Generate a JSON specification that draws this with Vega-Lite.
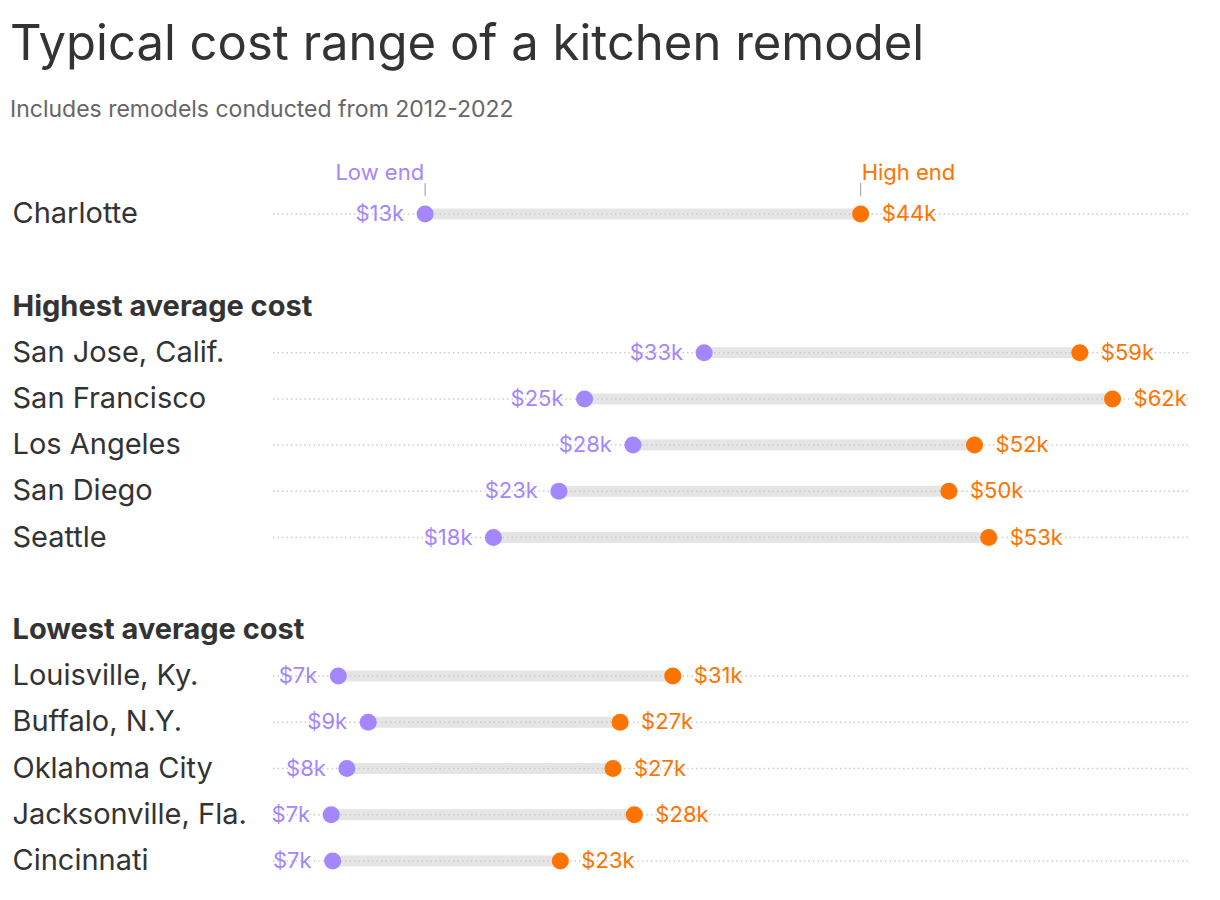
{
  "$schema": "https://vega.github.io/schema/vega-lite/v6.json",
  "autosize": {"type": "none"},
  "width": 918,
  "height": 693,
  "padding": {"left": 270, "top": 191, "right": 32, "bottom": 16},
  "background": "white",
  "config": {
    "font": "Inter",
    "view": {"stroke": null}
  },
  "title": {
    "text": "Typical cost range of a kitchen remodel",
    "subtitle": "Includes remodels conducted from 2012-2022",
    "anchor": "start",
    "frame": "group",
    "dx": -260,
    "offset": 40,
    "fontSize": 49,
    "fontWeight": "normal",
    "color": "#333333",
    "subtitleFontSize": 23,
    "subtitleColor": "#666666",
    "subtitlePadding": 29
  },
  "data": {
    "values": [
      {"city": "Charlotte", "low": 13.4, "high": 44.0},
      {"city": "San Jose, Calif.", "low": 33.0, "high": 59.4},
      {"city": "San Francisco", "low": 24.6, "high": 61.7},
      {"city": "Los Angeles", "low": 28.0, "high": 52.0},
      {"city": "San Diego", "low": 22.8, "high": 50.2},
      {"city": "Seattle", "low": 18.2, "high": 53.0},
      {"city": "Louisville, Ky.", "low": 7.3, "high": 30.8},
      {"city": "Buffalo, N.Y.", "low": 9.4, "high": 27.1},
      {"city": "Oklahoma City", "low": 7.9, "high": 26.6},
      {"city": "Jacksonville, Fla.", "low": 6.8, "high": 28.1},
      {"city": "Cincinnati", "low": 6.9, "high": 22.9}
    ]
  },
  "transform": [
    {"calculate": "'$' + format(datum.low, '.0f') + 'k'", "as": "lowLabel"},
    {"calculate": "'$' + format(datum.high, '.0f') + 'k'", "as": "highLabel"}
  ],
  "encoding": {
    "y": {
      "field": "city",
      "type": "nominal",
      "sort": null,
      "scale": {
        "domain": ["Charlotte", "gap1", "Highest average cost", "San Jose, Calif.", "San Francisco", "Los Angeles", "San Diego", "Seattle", "gap2", "Lowest average cost", "Louisville, Ky.", "Buffalo, N.Y.", "Oklahoma City", "Jacksonville, Fla.", "Cincinnati"],
        "paddingInner": 0,
        "paddingOuter": 0
      },
      "axis": {
        "title": null,
        "orient": "left",
        "offset": 258,
        "ticks": false,
        "domain": false,
        "grid": false,
        "labelAlign": "left",
        "labelBaseline": "middle",
        "labelPadding": 0,
        "labelFontSize": 29,
        "labelColor": "#333333",
        "labelLimit": 0,
        "labelFontWeight": {
          "condition": {"test": "datum.value === 'Highest average cost' || datum.value === 'Lowest average cost'", "value": "bold"},
          "value": "normal"
        },
        "labelExpr": "indexof(datum.value, 'gap') === 0 ? '' : datum.value"
      }
    }
  },
  "layer": [
    {
      "mark": {"type": "rule", "color": "#e5e5e5", "strokeWidth": 11, "strokeCap": "butt"},
      "encoding": {
        "x": {"field": "low", "type": "quantitative", "scale": {"domain": [2.5, 67], "zero": false, "nice": false}, "axis": null},
        "x2": {"field": "high"}
      }
    },
    {
      "mark": {"type": "rule", "color": "#cccccc", "strokeWidth": 1.5, "strokeDash": [1.5, 3]},
      "encoding": {}
    },
    {
      "mark": {"type": "circle", "size": 290, "opacity": 1, "color": "#a486ff"},
      "encoding": {
        "x": {"field": "low", "type": "quantitative"}
      }
    },
    {
      "mark": {"type": "circle", "size": 290, "opacity": 1, "color": "#ff7300"},
      "encoding": {
        "x": {"field": "high", "type": "quantitative"}
      }
    },
    {
      "mark": {"type": "text", "align": "right", "baseline": "middle", "dx": -21, "fontSize": 22, "color": "#a486ff"},
      "encoding": {
        "x": {"field": "low", "type": "quantitative"},
        "text": {"field": "lowLabel"}
      }
    },
    {
      "mark": {"type": "text", "align": "left", "baseline": "middle", "dx": 21, "fontSize": 22, "color": "#ff7300"},
      "encoding": {
        "x": {"field": "high", "type": "quantitative"},
        "text": {"field": "highLabel"}
      }
    },
    {
      "transform": [{"filter": "datum.city === 'Charlotte'"}],
      "mark": {"type": "text", "align": "right", "baseline": "alphabetic", "dx": -1, "dy": -34, "fontSize": 22, "color": "#a486ff"},
      "encoding": {
        "x": {"field": "low", "type": "quantitative"},
        "text": {"value": "Low end"}
      }
    },
    {
      "transform": [{"filter": "datum.city === 'Charlotte'"}],
      "mark": {"type": "text", "align": "left", "baseline": "alphabetic", "dx": 1, "dy": -34, "fontSize": 22, "color": "#ff7300"},
      "encoding": {
        "x": {"field": "high", "type": "quantitative"},
        "text": {"value": "High end"}
      }
    },
    {
      "transform": [{"filter": "datum.city === 'Charlotte'"}],
      "mark": {"type": "rule", "color": "#999999", "strokeWidth": 1, "yOffset": -31, "y2Offset": -18},
      "encoding": {
        "x": {"field": "low", "type": "quantitative"},
        "y2": {"field": "city"}
      }
    },
    {
      "transform": [{"filter": "datum.city === 'Charlotte'"}],
      "mark": {"type": "rule", "color": "#999999", "strokeWidth": 1, "yOffset": -31, "y2Offset": -18},
      "encoding": {
        "x": {"field": "high", "type": "quantitative"},
        "y2": {"field": "city"}
      }
    }
  ]
}
